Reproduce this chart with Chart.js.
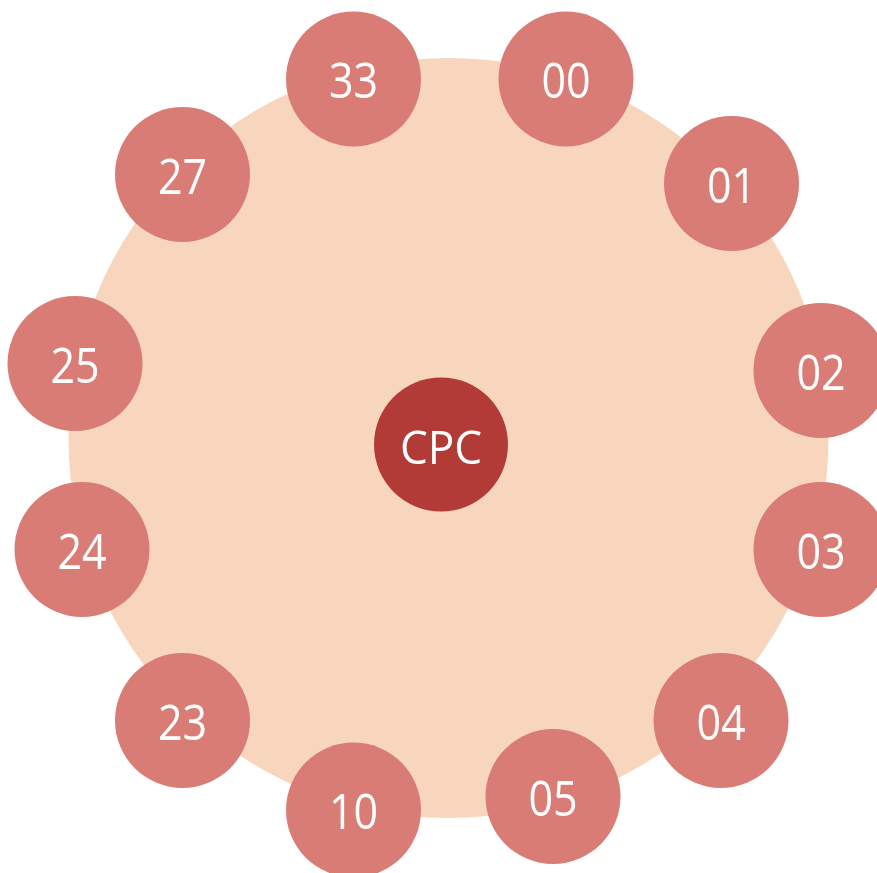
<!DOCTYPE html>
<html>
<head>
<meta charset="utf-8">
<script src="https://cdn.jsdelivr.net/npm/chart.js@4"></script>
<style>
  html, body { margin: 0; padding: 0; background: #fff; }
  #wrap { width: 877px; height: 873px; }
</style>
</head>
<body>
<div id="wrap"><canvas id="c"></canvas></div>
<script>
// outer ring nodes
const nodeLabels = ['33', '00', '01', '02', '03', '04', '05', '10', '23', '24', '25', '27'];
const nodeX = [353.5, 566, 731.5, 821, 821, 721, 553, 353.5, 182.5, 82, 75, 182.5];
const nodeY = [79, 79, 183.5, 370.5, 549.5, 720.5, 796.5, 810, 720.5, 549.5, 363.5, 174.5];

// centre node
const centerLabel = ['CPC'];
const centerX = [441];
const centerY = [444.5];

// background disc
const discX = [448.5];
const discY = [438];

const toPoints = (xs, ys) => xs.map((x, i) => ({ x: x, y: ys[i] }));

// draw the text on top of each bubble
const labelPlugin = {
  id: 'nodeLabels',
  afterDatasetsDraw(chart) {
    const c = chart.ctx;
    chart.data.datasets.forEach((ds, di) => {
      if (!ds.labels) return;
      const meta = chart.getDatasetMeta(di);
      const f = ds.labelFont;
      c.save();
      c.fillStyle = '#ffffff';
      c.font = f.size + 'px "Open Sans", "Noto Sans", sans-serif';
      c.textAlign = 'center';
      c.textBaseline = 'alphabetic';
      meta.data.forEach((el, i) => {
        c.save();
        c.translate(el.x, el.y + f.dy);
        c.scale(f.sx, 1); // narrower, closer to the original typeface
        c.fillText(ds.labels[i], 0, 0);
        c.restore();
      });
      c.restore();
    });
  }
};

new Chart(document.getElementById('c'), {
  type: 'bubble',
  data: {
    datasets: [
      {
        data: toPoints(discX, discY),
        radius: 380,
        backgroundColor: '#F8D6BE',
        borderWidth: 0,
        clip: false,
        order: 3
      },
      {
        data: toPoints(nodeX, nodeY),
        labels: nodeLabels,
        labelFont: { size: 50, sx: 0.86, dy: 19 },
        radius: 67.5,
        backgroundColor: '#D97C75',
        borderWidth: 0,
        clip: false,
        order: 2
      },
      {
        data: toPoints(centerX, centerY),
        labels: centerLabel,
        labelFont: { size: 46, sx: 0.96, dy: 19.5 },
        radius: 67,
        backgroundColor: '#B23B37',
        borderWidth: 0,
        clip: false,
        order: 1
      }
    ]
  },
  options: {
    responsive: true,
    maintainAspectRatio: false,
    animation: false,
    events: [],
    layout: { padding: 0, autoPadding: false },
    plugins: {
      legend: { display: false },
      tooltip: { enabled: false }
    },
    scales: {
      x: { type: 'linear', min: 0, max: 877, display: false },
      y: { type: 'linear', min: 0, max: 873, reverse: true, display: false }
    }
  },
  plugins: [labelPlugin]
});
</script>
</body>
</html>
